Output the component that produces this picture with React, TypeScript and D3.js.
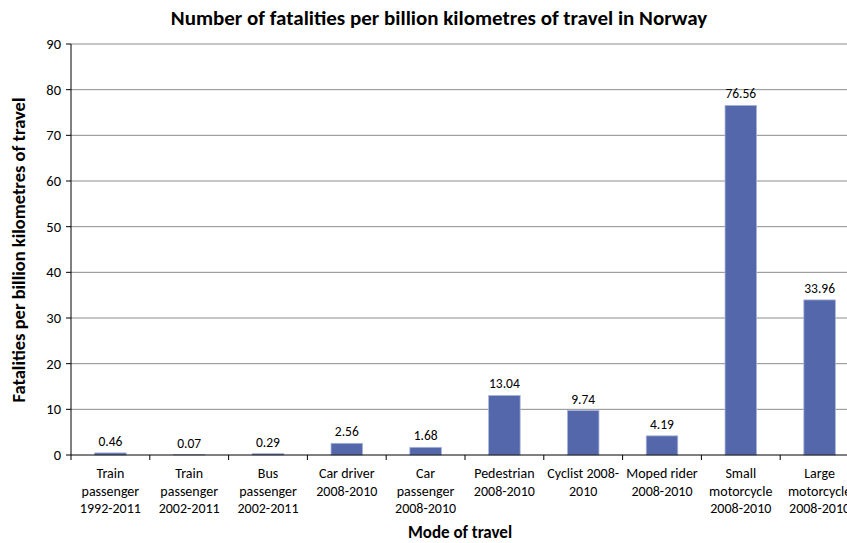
import React from "react";
import * as d3 from "d3";

const categories: string[][] = [
  ["Train", "passenger", "1992-2011"],
  ["Train", "passenger", "2002-2011"],
  ["Bus", "passenger", "2002-2011"],
  ["Car driver", "2008-2010"],
  ["Car", "passenger", "2008-2010"],
  ["Pedestrian", "2008-2010"],
  ["Cyclist 2008-", "2010"],
  ["Moped rider", "2008-2010"],
  ["Small", "motorcycle", "2008-2010"],
  ["Large", "motorcycle", "2008-2010"],
];
const values: number[] = [0.46, 0.07, 0.29, 2.56, 1.68, 13.04, 9.74, 4.19, 76.56, 33.96];
const valueLabels: string[] = ["0.46", "0.07", "0.29", "2.56", "1.68", "13.04", "9.74", "4.19", "76.56", "33.96"];
const yTicks: number[] = [0, 10, 20, 30, 40, 50, 60, 70, 80, 90];

const W = 847;
const H = 543;
const left = 71;
const right = 859;
const top = 44;
const bottom = 455;
const FONT = "Carlito, Lato, 'Liberation Sans', sans-serif";

export default function App() {
  const idx = categories.map((_, i) => String(i));
  const x = d3.scaleBand<string>().domain(idx).range([left, right]).paddingInner(0.6).paddingOuter(0.3);
  const xb = d3.scaleBand<string>().domain(idx).range([left, right]);
  const y = d3.scaleLinear().domain([0, 90]).range([bottom, top]);

  return (
    <svg width={W} height={H} style={{ position: "absolute", left: 0, top: 0, background: "#fff" }} fontFamily={FONT}>
      <text x={439} y={25} textAnchor="middle" fontSize={21} fontWeight="bold" fill="#000">
        Number of fatalities per billion kilometres of travel in Norway
      </text>
      {yTicks.map((t) => (
        <g key={t}>
          {t > 0 && <line x1={left} x2={W} y1={y(t)} y2={y(t)} stroke="#8c8c8c" strokeWidth={1} />}
          <line x1={left - 5} x2={left} y1={y(t)} y2={y(t)} stroke="#000" strokeWidth={1} />
          <text x={left - 10} y={y(t)} dy="0.35em" textAnchor="end" fontSize={14.5} fill="#000">
            {t}
          </text>
        </g>
      ))}
      {values.map((v, i) => (
        <g key={i}>
          <rect
            x={x(String(i))!}
            y={y(v)}
            width={x.bandwidth()}
            height={bottom - y(v)}
            fill="#5467ab"
            stroke="#a9b5da"
            strokeWidth={0.8}
          />
          <text x={x(String(i))! + x.bandwidth() / 2} y={y(v) - 7} textAnchor="middle" fontSize={13.5} fill="#000">
            {valueLabels[i]}
          </text>
        </g>
      ))}
      <line x1={left} x2={left} y1={top} y2={bottom} stroke="#000" strokeWidth={1} />
      <line x1={left} x2={W} y1={bottom} y2={bottom} stroke="#000" strokeWidth={1} />
      {idx.map((d) => (
        <line key={d} x1={xb(d)!} x2={xb(d)!} y1={bottom} y2={bottom + 5} stroke="#000" strokeWidth={1} />
      ))}
      {categories.map((lines, i) => (
        <text key={i} textAnchor="middle" fontSize={14} fill="#000">
          {lines.map((l, j) => (
            <tspan key={j} x={xb(String(i))! + xb.bandwidth() / 2} y={478 + j * 17.5}>
              {l}
            </tspan>
          ))}
        </text>
      ))}
      <text x={460} y={538} textAnchor="middle" fontSize={17} fontWeight="bold" fill="#000">
        Mode of travel
      </text>
      <text
        transform={`translate(25, 250) rotate(-90)`}
        textAnchor="middle"
        fontSize={18.5}
        fontWeight="bold"
        fill="#000"
      >
        Fatalities per billion kilometres of travel
      </text>
    </svg>
  );
}
